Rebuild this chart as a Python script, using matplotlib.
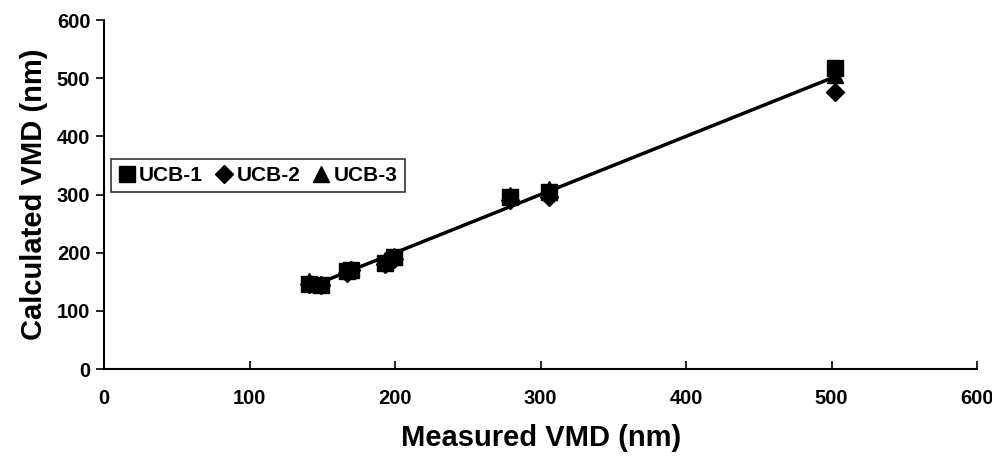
import matplotlib
matplotlib.use("Agg")
import matplotlib.pyplot as plt
import numpy as np

plt.rcParams['font.family'] = ['Liberation Sans', 'DejaVu Sans']

measured = [141, 149, 167, 170, 193, 199, 279, 306, 502]
ucb1 = [146, 145, 168, 171, 183, 192, 296, 305, 518]
ucb2 = [147, 145, 166, 170, 181, 190, 290, 296, 477]
ucb3 = [152, 146, 170, 173, 187, 195, 300, 309, 505]
series_names = ["UCB-1", "UCB-2", "UCB-3"]
x_ticks = [0, 100, 200, 300, 400, 500, 600]
y_ticks = [0, 100, 200, 300, 400, 500, 600]

fig = plt.figure(figsize=(9.92, 4.58), dpi=100)
ax = fig.add_axes([0.105, 0.194, 0.88, 0.762])

# trend line fitted over all series
allx = np.array(measured * 3)
ally = np.array(ucb1 + ucb2 + ucb3)
m, b = np.polyfit(allx, ally, 1)
xl = np.array([min(measured), max(measured)])
ax.plot(xl, m * xl + b, color='black', lw=2.5, zorder=1)

ax.plot(measured, ucb1, ls='none', marker='s', ms=11, color='black', label=series_names[0], zorder=3)
ax.plot(measured, ucb2, ls='none', marker='D', ms=9, color='black', label=series_names[1], zorder=2)
ax.plot(measured, ucb3, ls='none', marker='^', ms=11, color='black', label=series_names[2], zorder=2)

ax.set_xlim(0, 600)
ax.set_ylim(0, 600)
ax.set_xticks(x_ticks)
ax.set_yticks(y_ticks)
for s in ['top', 'right']:
    ax.spines[s].set_visible(False)
for s in ['left', 'bottom']:
    ax.spines[s].set_linewidth(1.5)
ax.tick_params(axis='x', direction='in', length=6, width=1.2, pad=14, labelsize=14.5)
ax.tick_params(axis='y', direction='out', length=6, width=1.2, pad=4, labelsize=14.5)
for lab in ax.get_xticklabels() + ax.get_yticklabels():
    lab.set_fontweight('bold')

ax.set_xlabel("Measured VMD (nm)", fontsize=21, fontweight='bold', labelpad=12)
ax.set_ylabel("Calculated VMD (nm)", fontsize=21, fontweight='bold', labelpad=6)

leg = ax.legend(loc='upper left', bbox_to_anchor=(-0.004, 0.633), ncol=3, frameon=True,
                fancybox=False, edgecolor='black', handlelength=0.8, handletextpad=0.2,
                columnspacing=0.6, borderpad=0.35, prop={'weight': 'bold', 'size': 15})
leg.get_frame().set_linewidth(1.2)

fig.savefig("out.png", dpi=100)
